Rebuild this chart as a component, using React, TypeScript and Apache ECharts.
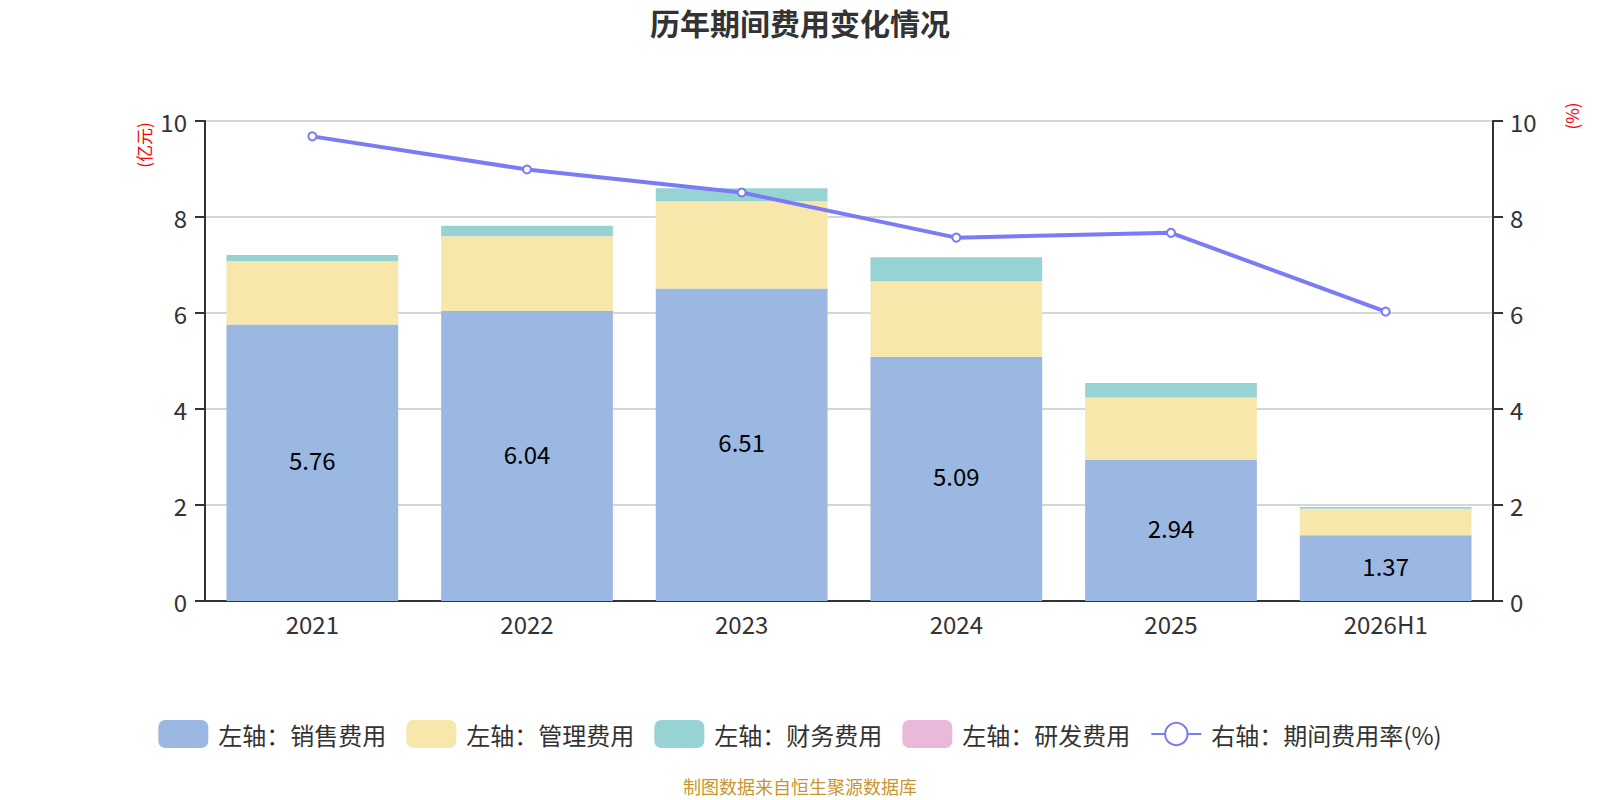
import React, { useEffect, useRef } from "react";
import * as echarts from "echarts";

const categories = ["2021", "2022", "2023", "2024", "2025", "2026H1"];
const salesExpense = [5.76, 6.04, 6.51, 5.09, 2.94, 1.37];
const adminExpense = [1.32, 1.56, 1.82, 1.57, 1.3, 0.55];
const financeExpense = [0.13, 0.22, 0.27, 0.5, 0.3, 0.04];
const rdExpense = [0, 0, 0, 0, 0, 0];
const expenseRate = [9.68, 8.99, 8.51, 7.57, 7.67, 6.03];
const leftTicks = { min: 0, max: 10, interval: 2 };
const rightTicks = { min: 0, max: 10, interval: 2 };

const FONT = "'Noto Sans CJK SC', 'Noto Sans', sans-serif";

export default function App() {
  const ref = useRef<HTMLDivElement>(null);
  useEffect(() => {
    document.body.style.margin = "0";
    if (!ref.current) return;
    const chart = echarts.init(ref.current, undefined, { renderer: "svg" });
    const axisLabel = { fontSize: 24, color: "#333", fontFamily: FONT };
    const option: any = {
      animation: false,
      textStyle: { fontFamily: FONT },
      title: {
        text: "历年期间费用变化情况",
        left: "center",
        top: 2,
        textStyle: { fontSize: 30, fontWeight: "bold", color: "#333", fontFamily: FONT },
      },
      grid: { left: 205, right: 107, top: 121, bottom: 199, containLabel: false },
      legend: {
        top: 715,
        left: "center",
        itemWidth: 50,
        itemHeight: 28,
        itemGap: 20,
        textStyle: { fontSize: 24, color: "#333", fontFamily: FONT, padding: [0, 0, 0, 5] },
        data: [
          { name: "左轴：销售费用", icon: "roundRect" },
          { name: "左轴：管理费用", icon: "roundRect" },
          { name: "左轴：财务费用", icon: "roundRect" },
          { name: "左轴：研发费用", icon: "roundRect" },
          { name: "右轴：期间费用率(%)" },
        ],
      },
      xAxis: {
        type: "category",
        data: categories,
        axisLine: { lineStyle: { color: "#333", width: 2 } },
        axisTick: { length: 9, lineStyle: { color: "#333", width: 2 } },
        axisLabel: { ...axisLabel, margin: 10 },
      },
      yAxis: [
        {
          type: "value",
          ...leftTicks,
          axisLine: { show: true, lineStyle: { color: "#333", width: 2 } },
          axisTick: { show: true, length: 10, lineStyle: { color: "#333", width: 2 } },
          axisLabel: { ...axisLabel, margin: 18 },
          splitLine: { lineStyle: { color: "#c8c8c8", width: 1.5 } },
        },
        {
          type: "value",
          ...rightTicks,
          axisLine: { show: true, lineStyle: { color: "#333", width: 2 } },
          axisTick: { show: true, length: 10, lineStyle: { color: "#333", width: 2 } },
          axisLabel: { ...axisLabel, margin: 17 },
          splitLine: { show: false },
        },
      ],
      series: [
        {
          name: "左轴：销售费用",
          type: "bar",
          stack: "exp",
          barWidth: "80%",
          data: salesExpense,
          itemStyle: { color: "#9bb8e2" },
          label: {
            show: true,
            position: "inside",
            offset: [0, -3],
            fontSize: 24,
            color: "#000",
            fontFamily: FONT,
          },
        },
        {
          name: "左轴：管理费用",
          type: "bar",
          stack: "exp",
          data: adminExpense,
          itemStyle: { color: "#f8e7aa" },
        },
        {
          name: "左轴：财务费用",
          type: "bar",
          stack: "exp",
          data: financeExpense,
          itemStyle: { color: "#98d3d4" },
        },
        {
          name: "左轴：研发费用",
          type: "bar",
          stack: "exp",
          data: rdExpense,
          itemStyle: { color: "#e8b9d8" },
        },
        {
          name: "右轴：期间费用率(%)",
          type: "line",
          yAxisIndex: 1,
          data: expenseRate,
          symbol: "emptyCircle",
          symbolSize: 8,
          z: 10,
          lineStyle: { color: "#7b7bf6", width: 4 },
          itemStyle: { color: "#7b7bf6", borderWidth: 1.5 },
        },
      ],
      graphic: [
        {
          type: "text",
          x: 143,
          y: 145,
          rotation: Math.PI / 2,
          style: {
            text: "(亿元)",
            fontSize: 17,
            fill: "#ff0000",
            fontFamily: FONT,
            align: "center",
            verticalAlign: "middle",
          },
        },
        {
          type: "text",
          x: 1571,
          y: 116,
          rotation: Math.PI / 2,
          style: {
            text: "(%)",
            fontSize: 17,
            fill: "#ff0000",
            fontFamily: FONT,
            align: "center",
            verticalAlign: "middle",
          },
        },
        {
          type: "text",
          x: 800,
          y: 786,
          style: {
            text: "制图数据来自恒生聚源数据库",
            fontSize: 18,
            fill: "#c8962e",
            fontFamily: FONT,
            align: "center",
            verticalAlign: "middle",
          },
        },
      ],
    };
    chart.setOption(option);
    return () => chart.dispose();
  }, []);
  return <div ref={ref} style={{ width: 1600, height: 800 }} />;
}
